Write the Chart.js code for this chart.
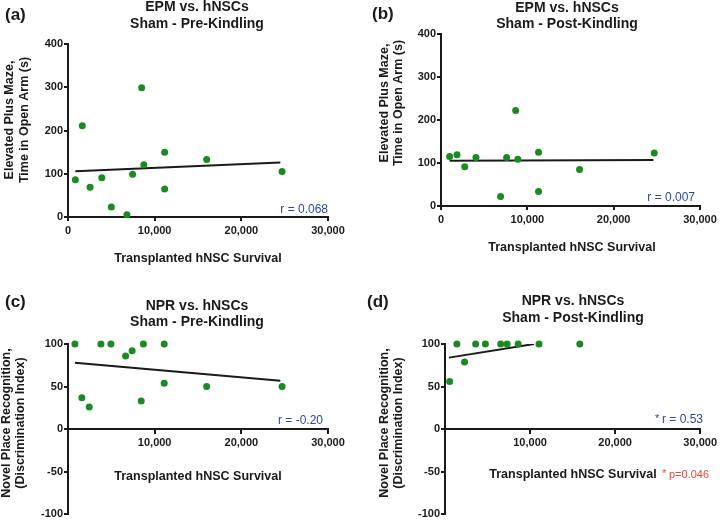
<!DOCTYPE html>
<html>
<head>
<meta charset="utf-8">
<title>hNSC survival correlations</title>
<script src="https://cdn.jsdelivr.net/npm/chart.js@4.4.0/dist/chart.umd.min.js"></script>
<style>
  body { margin: 0; background: #fff; }
  #wrap { position: relative; width: 720px; height: 522px; overflow: hidden; }
  #wrap canvas { position: absolute; }
</style>
</head>
<body>
<div id="wrap">
  <canvas id="chartA" width="360" height="275" style="left:0;top:0"></canvas>
  <canvas id="chartB" width="360" height="260" style="left:360px;top:0"></canvas>
  <canvas id="chartC" width="360" height="247" style="left:0;top:275px"></canvas>
  <canvas id="chartD" width="360" height="247" style="left:360px;top:275px"></canvas>
</div>
<script>
// transplanted hNSC survival per animal (x) and behaviour score (y)
const survivalA = [850, 1650, 2550, 3900, 5000, 6800, 7450, 8500, 8750, 11150, 11150, 16000, 24700];
const epmPre = [86, 211, 69, 91, 23, 5, 99, 299, 121, 150, 65, 133, 105];

const survivalB = [1000, 1850, 2750, 4050, 6900, 7600, 8650, 8900, 11300, 11300, 16050, 24700];
const epmPost = [115, 119, 91, 113, 22, 113, 222, 109, 125, 34, 85, 123];

const survivalC = [800, 1600, 2450, 3800, 4950, 6650, 7400, 8450, 8700, 11100, 11100, 16000, 24700];
const nprPre = [100, 37, 26, 100, 100, 86, 92, 33, 100, 100, 54, 50, 50];

const survivalD = [550, 1400, 2300, 3600, 4750, 6550, 7300, 8600, 11050, 15850];
const nprPost = [56, 100, 79, 100, 100, 100, 100, 100, 100, 100];

// regression line end points
const fitAx = [850, 24500], fitAy = [106, 126];
const fitBx = [1000, 24600], fitBy = [105, 107];
const fitCx = [800, 24500], fitCy = [78, 57];
const fitDx = [470, 10470], fitDy = [84, 100];

const xTicks = [0, 10000, 20000, 30000];

const GREEN = '#1b8a22';
const BLUE = '#2b4a9b';
const RED = '#e8453c';
const INK = '#1a1a1a';
const BOLD = 'bold 14px "Liberation Sans", Arial, sans-serif';

Chart.defaults.font.family = '"Liberation Sans", Arial, sans-serif';
Chart.defaults.color = INK;

// draws panel letters, titles, axis titles and stats text
const panelText = {
  id: 'panelText',
  afterDraw(chart, args, opts) {
    const ctx = chart.ctx;
    (opts.items || []).forEach(function (t) {
      ctx.save();
      ctx.font = t.font;
      ctx.fillStyle = t.color || INK;
      ctx.textAlign = t.align || 'center';
      ctx.textBaseline = t.base || 'alphabetic';
      ctx.translate(t.x, t.y);
      if (t.rotate) ctx.rotate(-Math.PI / 2);
      ctx.fillText(t.text, 0, 0);
      ctx.restore();
    });
  }
};

function toPoints(xs, ys) {
  return xs.map(function (x, i) { return { x: x, y: ys[i] }; });
}

function makePanel(id, o) {
  const axisLine = { color: INK, width: 2 };
  const tickMarks = { drawOnChartArea: false, color: INK, lineWidth: 2, tickLength: 4 };
  return new Chart(document.getElementById(id), {
    type: 'scatter',
    data: {
      datasets: [
        {
          data: toPoints(o.xs, o.ys),
          backgroundColor: GREEN,
          borderWidth: 0,
          pointRadius: 3.5,
          clip: false,
          order: 1
        },
        {
          type: 'line',
          data: toPoints(o.fitX, o.fitY),
          borderColor: INK,
          borderWidth: 2,
          pointRadius: 0,
          fill: false,
          order: 2
        }
      ]
    },
    options: {
      responsive: false,
      animation: false,
      layout: { padding: o.padding },
      plugins: {
        legend: { display: false },
        tooltip: { enabled: false },
        panelText: { items: o.texts }
      },
      scales: {
        x: {
          type: 'linear',
          min: 0,
          max: 30000,
          position: o.xAtZero ? { y: 0 } : 'bottom',
          afterBuildTicks: function (s) { s.ticks = xTicks.map(function (v) { return { value: v }; }); },
          ticks: {
            color: INK,
            font: { size: 11, weight: 'bold' },
            padding: 3,
            maxRotation: 0,
            callback: function (v) { return (o.xAtZero && v === 0) ? '' : v.toLocaleString('en-US'); }
          },
          grid: tickMarks,
          border: axisLine,
          afterFit: function (s) { if (!o.xAtZero) s.height = o.xHeight; }
        },
        y: {
          min: o.yMin,
          max: o.yMax,
          ticks: {
            stepSize: o.yStep,
            color: INK,
            font: { size: 11, weight: 'bold' },
            padding: 1
          },
          grid: tickMarks,
          border: axisLine,
          afterFit: function (s) { s.width = o.yWidth; }
        }
      }
    },
    plugins: [panelText]
  });
}

const LETTER = 'bold 17px "Liberation Sans", Arial, sans-serif';
const AXT = 'bold 12.5px "Liberation Sans", Arial, sans-serif';
const STAT = '12px "Liberation Sans", Arial, sans-serif';
const STAR = '11px "Liberation Sans", Arial, sans-serif';

makePanel('chartA', {
  xs: survivalA, ys: epmPre, fitX: fitAx, fitY: fitAy,
  yMin: 0, yMax: 400, yStep: 100,
  padding: { left: 0, top: 44, right: 32, bottom: 0 }, yWidth: 68, xHeight: 58,
  texts: [
    { text: '(a)', x: 5, y: 15, font: LETTER, align: 'left', base: 'middle' },
    { text: 'EPM vs. hNSCs', x: 197, y: 11, font: BOLD },
    { text: 'Sham - Pre-Kindling', x: 197, y: 28, font: BOLD },
    { text: 'Elevated Plus Maze,', x: 10, y: 120, font: AXT, base: 'middle', rotate: true },
    { text: 'Time in Open Arm (s)', x: 25, y: 120, font: AXT, base: 'middle', rotate: true },
    { text: 'Transplanted hNSC Survival', x: 198, y: 259, font: AXT, base: 'middle' },
    { text: 'r = 0.068', x: 328, y: 213, font: STAT, color: BLUE, align: 'right' }
  ]
});

makePanel('chartB', {
  xs: survivalB, ys: epmPost, fitX: fitBx, fitY: fitBy,
  yMin: 0, yMax: 400, yStep: 100,
  padding: { left: 0, top: 34, right: 20, bottom: 0 }, yWidth: 81, xHeight: 54,
  texts: [
    { text: '(b)', x: 12, y: 14, font: LETTER, align: 'left', base: 'middle' },
    { text: 'EPM vs. hNSCs', x: 207, y: 12, font: BOLD },
    { text: 'Sham - Post-Kindling', x: 207, y: 28, font: BOLD },
    { text: 'Elevated Plus Maze,', x: 25, y: 103, font: AXT, base: 'middle', rotate: true },
    { text: 'Time in Open Arm (s)', x: 39, y: 103, font: AXT, base: 'middle', rotate: true },
    { text: 'Transplanted hNSC Survival', x: 212, y: 248, font: AXT, base: 'middle' },
    { text: 'r = 0.007', x: 335, y: 201, font: STAT, color: BLUE, align: 'right' }
  ]
});

makePanel('chartC', {
  xs: survivalC, ys: nprPre, fitX: fitCx, fitY: fitCy,
  yMin: -100, yMax: 100, yStep: 50, xAtZero: true,
  padding: { left: 0, top: 69, right: 32, bottom: 5 }, yWidth: 68,
  texts: [
    { text: '(c)', x: 5, y: 27, font: LETTER, align: 'left', base: 'middle' },
    { text: 'NPR vs. hNSCs', x: 197, y: 35, font: BOLD },
    { text: 'Sham - Pre-Kindling', x: 197, y: 51, font: BOLD },
    { text: 'Novel Place Recognition,', x: 7, y: 148, font: AXT, base: 'middle', rotate: true },
    { text: '(Discrimination Index)', x: 21, y: 148, font: AXT, base: 'middle', rotate: true },
    { text: 'Transplanted hNSC Survival', x: 198, y: 202, font: AXT, base: 'middle' },
    { text: 'r = -0.20', x: 323, y: 149, font: STAT, color: BLUE, align: 'right' }
  ]
});

makePanel('chartD', {
  xs: survivalD, ys: nprPost, fitX: fitDx, fitY: fitDy,
  yMin: -100, yMax: 100, yStep: 50, xAtZero: true,
  padding: { left: 0, top: 69, right: 17, bottom: 5 }, yWidth: 85,
  texts: [
    { text: '(d)', x: 7, y: 27, font: LETTER, align: 'left', base: 'middle' },
    { text: 'NPR vs. hNSCs', x: 213, y: 30, font: BOLD },
    { text: 'Sham - Post-Kindling', x: 213, y: 47, font: BOLD },
    { text: 'Novel Place Recognition,', x: 25, y: 148, font: AXT, base: 'middle', rotate: true },
    { text: '(Discrimination Index)', x: 39, y: 148, font: AXT, base: 'middle', rotate: true },
    { text: 'Transplanted hNSC Survival', x: 213, y: 200, font: AXT, base: 'middle' },
    { text: '*', x: 295, y: 147, font: STAR, color: BLUE, align: 'left' },
    { text: 'r = 0.53', x: 343, y: 148, font: STAT, color: BLUE, align: 'right' },
    { text: '*', x: 302, y: 202, font: STAR, color: RED, align: 'left' },
    { text: 'p=0.046', x: 309, y: 203, font: '11px "Liberation Sans", Arial, sans-serif', color: RED, align: 'left' }
  ]
});
</script>
</body>
</html>
